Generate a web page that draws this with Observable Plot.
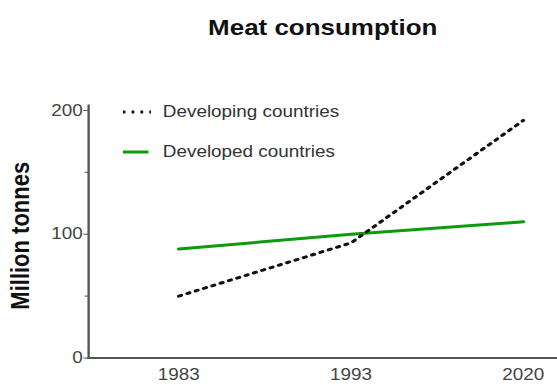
<!DOCTYPE html>
<html><head><meta charset="utf-8">
<script src="https://cdn.jsdelivr.net/npm/d3@7"></script>
<script src="https://cdn.jsdelivr.net/npm/@observablehq/plot@0.6"></script>
<style>
html,body{margin:0;padding:0;background:#fff;overflow:hidden}
#wrap{position:relative;width:472px;height:385px;transform:scaleX(1.18);transform-origin:0 0;font-family:"Liberation Sans",Arial,sans-serif}
#title{position:absolute;left:75px;width:397px;top:0;height:50px;line-height:56px;text-align:center;font-weight:bold;font-size:22px;color:#111}
#chart{position:absolute;left:0;top:50px}
.leg{position:absolute;left:104px;height:20px;font-size:16px;color:#333;display:flex;align-items:center;white-space:nowrap}
.leg svg{margin-right:10px;display:block}
</style></head>
<body><div id="wrap"><div id="title">Meat consumption</div><div id="chart"></div><div id="legend"></div></div>
<script>
const years = ["1983", "1993", "2020"];
const developing = [50, 93, 192];
const developed = [88, 100, 110];
const seriesNames = ["Developing countries", "Developed countries"];
const seriesColors = ["#111111", "#0b9b0b"];
const yTicks = [0, 100, 200];
const yMinorTicks = [50, 150];

const data = years.flatMap((yr, i) => [
  {year: yr, value: developing[i], series: seriesNames[0]},
  {year: yr, value: developed[i], series: seriesNames[1]}
]);

const chart = Plot.plot({
  width: 472, height: 335,
  marginLeft: 74.6, marginRight: 0, marginTop: 55, marginBottom: 27.5,
  style: {fontFamily: "Liberation Sans, Arial, sans-serif", fontSize: "16px", color: "#444", background: "#fff", overflow: "visible"},
  x: {type: "point", domain: years, range: [150, 443], padding: 0, axis: null},
  y: {domain: [0, 204], axis: null},
  marks: [
    Plot.axisX({ticks: years, tickSize: 0, tickPadding: 11, fontSize: 16, fill: "#444", label: null}),
    Plot.axisY({ticks: yTicks, tickSize: 4, tickPadding: 1, fontSize: 16, fill: "#444", stroke: "#555", label: null}),
    Plot.axisY({ticks: yMinorTicks, tickSize: 3, text: null, stroke: "#555", label: null}),
    Plot.frame({anchor: "left", stroke: "#555", strokeWidth: 2}),
    Plot.frame({anchor: "bottom", stroke: "#555", strokeWidth: 2}),
    Plot.line(data.filter(d => d.series === seriesNames[1]), {x: "year", y: "value", stroke: seriesColors[1], strokeWidth: 3}),
    Plot.line(data.filter(d => d.series === seriesNames[0]), {x: "year", y: "value", stroke: seriesColors[0], strokeWidth: 3, strokeDasharray: "2.3,5.2"}),
    Plot.text(["Million tonnes"], {frameAnchor: "left", textAnchor: "middle", dx: -57.6, dy: 4, rotate: -90, fontSize: 22, fontWeight: "bold", fill: "#111"})
  ]
});
document.getElementById("chart").appendChild(chart);

// legend
const legend = document.getElementById("legend");
const legTops = [102, 142];
seriesNames.forEach((name, i) => {
  const div = document.createElement("div");
  div.className = "leg";
  div.style.top = legTops[i] + "px";
  const w = i === 0 ? 24 : 22;
  const dash = i === 0 ? ' stroke-dasharray="2.3,5.2"' : '';
  div.innerHTML = `<svg width="${w}" height="20"><line x1="0" x2="${w}" y1="10" y2="10" stroke="${seriesColors[i]}" stroke-width="3"${dash}/></svg><span></span>`;
  div.querySelector("span").textContent = name;
  if (i === 1) div.querySelector("svg").style.marginRight = "12px";
  legend.appendChild(div);
});
</script>
</body></html>
